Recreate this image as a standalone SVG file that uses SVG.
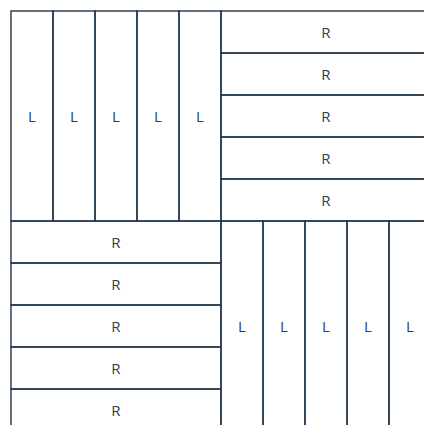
<svg xmlns="http://www.w3.org/2000/svg" width="424" height="425" viewBox="0 0 424 425">
<style>
.c{fill:none;stroke:#22364a;stroke-width:1.4}
.t{font-family:"Open Sans","Noto Sans",sans-serif;font-size:15px;fill:#2c3e50;text-anchor:middle;dominant-baseline:central}
</style>
<rect width="424" height="425" fill="#fff"/>
<g id="tl">
<g id="tl1"><rect class="c" x="11" y="11" width="42" height="210"/><text class="t" x="32" y="116">L</text></g>
<g id="tl2"><rect class="c" x="53" y="11" width="42" height="210"/><text class="t" x="74" y="116">L</text></g>
<g id="tl3"><rect class="c" x="95" y="11" width="42" height="210"/><text class="t" x="116" y="116">L</text></g>
<g id="tl4"><rect class="c" x="137" y="11" width="42" height="210"/><text class="t" x="158" y="116">L</text></g>
<g id="tl5"><rect class="c" x="179" y="11" width="42" height="210"/><text class="t" x="200" y="116">L</text></g>
</g>
<g id="tr">
<g id="tr1"><rect class="c" x="221" y="11" width="210" height="42"/><text class="t" x="326" y="32">R</text></g>
<g id="tr2"><rect class="c" x="221" y="53" width="210" height="42"/><text class="t" x="326" y="74">R</text></g>
<g id="tr3"><rect class="c" x="221" y="95" width="210" height="42"/><text class="t" x="326" y="116">R</text></g>
<g id="tr4"><rect class="c" x="221" y="137" width="210" height="42"/><text class="t" x="326" y="158">R</text></g>
<g id="tr5"><rect class="c" x="221" y="179" width="210" height="42"/><text class="t" x="326" y="200">R</text></g>
</g>
<g id="bl">
<g id="bl1"><rect class="c" x="11" y="221" width="210" height="42"/><text class="t" x="116" y="242">R</text></g>
<g id="bl2"><rect class="c" x="11" y="263" width="210" height="42"/><text class="t" x="116" y="284">R</text></g>
<g id="bl3"><rect class="c" x="11" y="305" width="210" height="42"/><text class="t" x="116" y="326">R</text></g>
<g id="bl4"><rect class="c" x="11" y="347" width="210" height="42"/><text class="t" x="116" y="368">R</text></g>
<g id="bl5"><rect class="c" x="11" y="389" width="210" height="42"/><text class="t" x="116" y="410">R</text></g>
</g>
<g id="br">
<g id="br1"><rect class="c" x="221" y="221" width="42" height="210"/><text class="t" x="242" y="326">L</text></g>
<g id="br2"><rect class="c" x="263" y="221" width="42" height="210"/><text class="t" x="284" y="326">L</text></g>
<g id="br3"><rect class="c" x="305" y="221" width="42" height="210"/><text class="t" x="326" y="326">L</text></g>
<g id="br4"><rect class="c" x="347" y="221" width="42" height="210"/><text class="t" x="368" y="326">L</text></g>
<g id="br5"><rect class="c" x="389" y="221" width="42" height="210"/><text class="t" x="410" y="326">L</text></g>
</g>
<g id="connectors"/>
</svg>
